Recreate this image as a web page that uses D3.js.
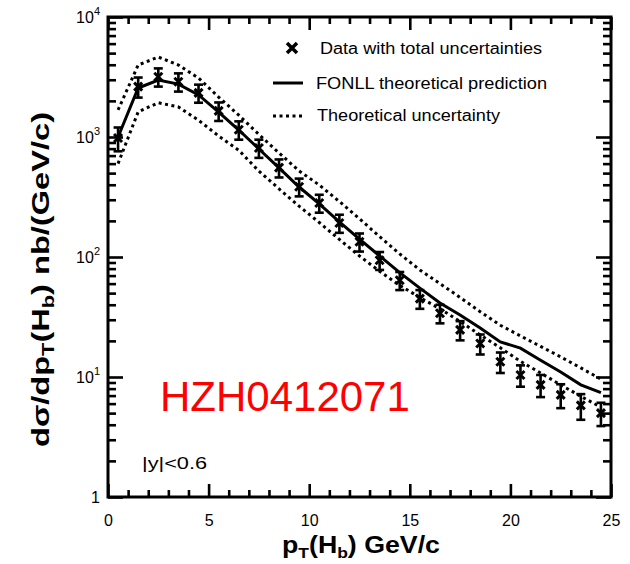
<!DOCTYPE html>
<html><head><meta charset="utf-8">
<script src="https://cdn.jsdelivr.net/npm/d3@7"></script>
<style>
body{margin:0;background:#fff}
svg{display:block}
text{font-family:"Liberation Sans",Arial,Helvetica,sans-serif;fill:#000}
</style>
</head><body>
<svg id="chart" width="630" height="564"></svg>
<script>
// Bin centres in pT (GeV/c)
const ptBins = [0.5,1.5,2.5,3.5,4.5,5.5,6.5,7.5,8.5,9.5,10.5,11.5,12.5,13.5,14.5,15.5,16.5,17.5,18.5,19.5,20.5,21.5,22.5,23.5,24.5];
// Measured cross section, nb/(GeV/c), and total uncertainty
const dataValues = [980,2630,3180,2890,2330,1650,1150,810,555,385,282,192,134,94,64,45,34,24.7,19,13.4,10.4,8.6,7.1,5.8,5.0];
const dataErrors = [220,500,550,500,400,290,200,140,95,65,48,33,23,16,11,8,6,4.5,3.6,2.6,2.1,1.8,1.6,1.4,1.1];
// FONLL prediction: central value and uncertainty band edges
const fonllCentral = [1000,2560,2985,2760,2240,1615,1143,794,552,383,277,196,141,102,74,55,41.4,32.9,25.6,19.6,17.4,13.8,11,8.6,7.4];
const fonllUpper   = [1680,3980,4640,3980,3100,2150,1520,1050,736,522,398,290,208,148,106,78,60,46,35,27,22,18,14.7,11.9,9.6];
const fonllLower   = [600,1620,1930,1780,1380,1020,775,520,370,265,194,140,102,76,58,46,37,29,22.4,17.5,13.5,10.8,8.6,6.9,5.6];
// Axis tick labels
const xTickValues = [0,5,10,15,20,25];
const yTickValues = [1,10,100,1000,10000];
const yTickBase = ["1","10","10","10","10"];
const yTickExp  = ["","1","2","3","4"];
// Legend entries
const legendLabels = ["Data with total uncertainties","FONLL theoretical prediction","Theoretical uncertainty"];

const svg = d3.select("#chart");
const X0 = 108, X1 = 611, Y0 = 497, Y1 = 17;
const x = d3.scaleLinear().domain([0,25]).range([X0,X1]);
const y = d3.scaleLog().domain([1,1e4]).range([Y0,Y1]);

const minorX = d3.range(0,26).filter(v => v % 5 !== 0);
const minorY = [];
for (let k = 0; k < 4; k++) for (let m = 2; m <= 9; m++) minorY.push(m * Math.pow(10,k));

function styleAxis(g){
  g.select(".domain").remove();
  g.selectAll(".tick line").attr("stroke","#000").attr("stroke-width",2.6);
}
// bottom/top minor and major ticks (inward)
svg.append("g").attr("transform",`translate(0,${Y0})`).call(d3.axisBottom(x).tickValues(minorX).tickSize(-7).tickFormat("")).call(styleAxis);
svg.append("g").attr("transform",`translate(0,${Y1})`).call(d3.axisTop(x).tickValues(minorX).tickSize(-7).tickFormat("")).call(styleAxis);
svg.append("g").attr("transform",`translate(0,${Y1})`).call(d3.axisTop(x).tickValues(xTickValues).tickSize(-13).tickFormat("")).call(styleAxis);
const xAxis = svg.append("g").attr("transform",`translate(0,${Y0})`)
  .call(d3.axisBottom(x).tickValues(xTickValues).tickSize(-13).tickPadding(18).tickFormat(d3.format("d")))
  .call(styleAxis);
xAxis.selectAll("text").attr("font-size",16).attr("font-family","Liberation Sans, Arial, sans-serif").attr("fill","#000");

// left/right ticks
svg.append("g").attr("transform",`translate(${X0},0)`).call(d3.axisLeft(y).tickValues(minorY).tickSize(-8).tickFormat("")).call(styleAxis);
svg.append("g").attr("transform",`translate(${X1},0)`).call(d3.axisRight(y).tickValues(minorY).tickSize(-8).tickFormat("")).call(styleAxis);
svg.append("g").attr("transform",`translate(${X1},0)`).call(d3.axisRight(y).tickValues(yTickValues).tickSize(-15).tickFormat("")).call(styleAxis);
const yAxis = svg.append("g").attr("transform",`translate(${X0},0)`)
  .call(d3.axisLeft(y).tickValues(yTickValues).tickSize(-15).tickPadding(8).tickFormat(""))
  .call(styleAxis);
yAxis.selectAll(".tick").each(function(d,i){
  const t = d3.select(this).select("text")
    .attr("font-size",16).attr("font-family","Liberation Sans, Arial, sans-serif").attr("fill","#000")
    .attr("dy","0.35em").attr("x",-8);
  t.text(null);
  const idx = yTickValues.indexOf(d);
  t.append("tspan").text(yTickBase[idx]);
  if (yTickExp[idx]) t.append("tspan").attr("font-size",11).attr("dy","-0.75em").text(yTickExp[idx]);
});

// frame
svg.append("rect").attr("x",X0).attr("y",Y1).attr("width",X1-X0).attr("height",Y0-Y1)
  .attr("fill","none").attr("stroke","#000").attr("stroke-width",3);

// theory curves
const line = d3.line().x((d,i) => x(ptBins[i])).y(d => y(d));
svg.append("path").datum(fonllUpper).attr("d",line).attr("fill","none").attr("stroke","#000")
  .attr("stroke-width",3).attr("stroke-dasharray","3,3.5");
svg.append("path").datum(fonllLower).attr("d",line).attr("fill","none").attr("stroke","#000")
  .attr("stroke-width",3).attr("stroke-dasharray","3,3.5");
svg.append("path").datum(fonllCentral).attr("d",line).attr("fill","none").attr("stroke","#000")
  .attr("stroke-width",3);

// data points with error bars
const pts = svg.append("g");
ptBins.forEach((p,i) => {
  const cx = x(p), cy = y(dataValues[i]);
  const yl = y(dataValues[i] - dataErrors[i]), yh = y(dataValues[i] + dataErrors[i]);
  const g = pts.append("g").attr("stroke","#000").attr("stroke-width",2.6).attr("fill","none");
  g.append("line").attr("x1",cx).attr("x2",cx).attr("y1",yl).attr("y2",yh);
  g.append("line").attr("x1",cx-4.5).attr("x2",cx+4.5).attr("y1",yl).attr("y2",yl);
  g.append("line").attr("x1",cx-4.5).attr("x2",cx+4.5).attr("y1",yh).attr("y2",yh);
  g.append("path").attr("d",`M${cx-4},${cy-4}L${cx+4},${cy+4}M${cx-4},${cy+4}L${cx+4},${cy-4}`).attr("stroke-width",3);
});

// legend
const lg = svg.append("g");
lg.append("path").attr("d","M287,43L297,53M287,53L297,43").attr("stroke","#000").attr("stroke-width",3.5);
lg.append("line").attr("x1",273).attr("x2",303).attr("y1",83).attr("y2",83).attr("stroke","#000").attr("stroke-width",3);
lg.append("line").attr("x1",273).attr("x2",303).attr("y1",116).attr("y2",116).attr("stroke","#000").attr("stroke-width",3).attr("stroke-dasharray","3,3.5");
const legY = [54,89,121], legX = [320,316,317], legW = [222,231,183];
legendLabels.forEach((s,i) => {
  lg.append("text").attr("x",legX[i]).attr("y",legY[i]).attr("font-size",16)
    .attr("textLength",legW[i]).attr("lengthAdjust","spacingAndGlyphs").text(s);
});

// rapidity note
svg.append("text").attr("x",142).attr("y",469).attr("font-size",17)
  .attr("textLength",65).attr("lengthAdjust","spacingAndGlyphs").text("|y|<0.6");

// watermark id
svg.append("text").attr("x",160).attr("y",411).attr("font-size",42).attr("fill","#ff0000")
  .style("fill","#ff0000").text("HZH0412071");

// x-axis title
const xt = svg.append("text").attr("x",282).attr("y",553).attr("font-size",23).attr("font-weight","bold")
  .attr("textLength",158).attr("lengthAdjust","spacingAndGlyphs");
xt.append("tspan").text("p");
xt.append("tspan").attr("font-size",15).attr("dy",5).text("T");
xt.append("tspan").attr("dy",-5).text("(H");
xt.append("tspan").attr("font-size",15).attr("dy",5).text("b");
xt.append("tspan").attr("dy",-5).text(") GeV/c");

// y-axis title
const yt = svg.append("text").attr("transform","translate(49,447) rotate(-90)").attr("x",0).attr("y",0)
  .attr("font-size",24).attr("font-weight","bold")
  .attr("textLength",335).attr("lengthAdjust","spacingAndGlyphs");
yt.append("tspan").text("dσ/dp");
yt.append("tspan").attr("font-size",16).attr("dy",5).text("T");
yt.append("tspan").attr("dy",-5).text("(H");
yt.append("tspan").attr("font-size",16).attr("dy",5).text("b");
yt.append("tspan").attr("dy",-5).text(") nb/(GeV/c)");
</script>
</body></html>
